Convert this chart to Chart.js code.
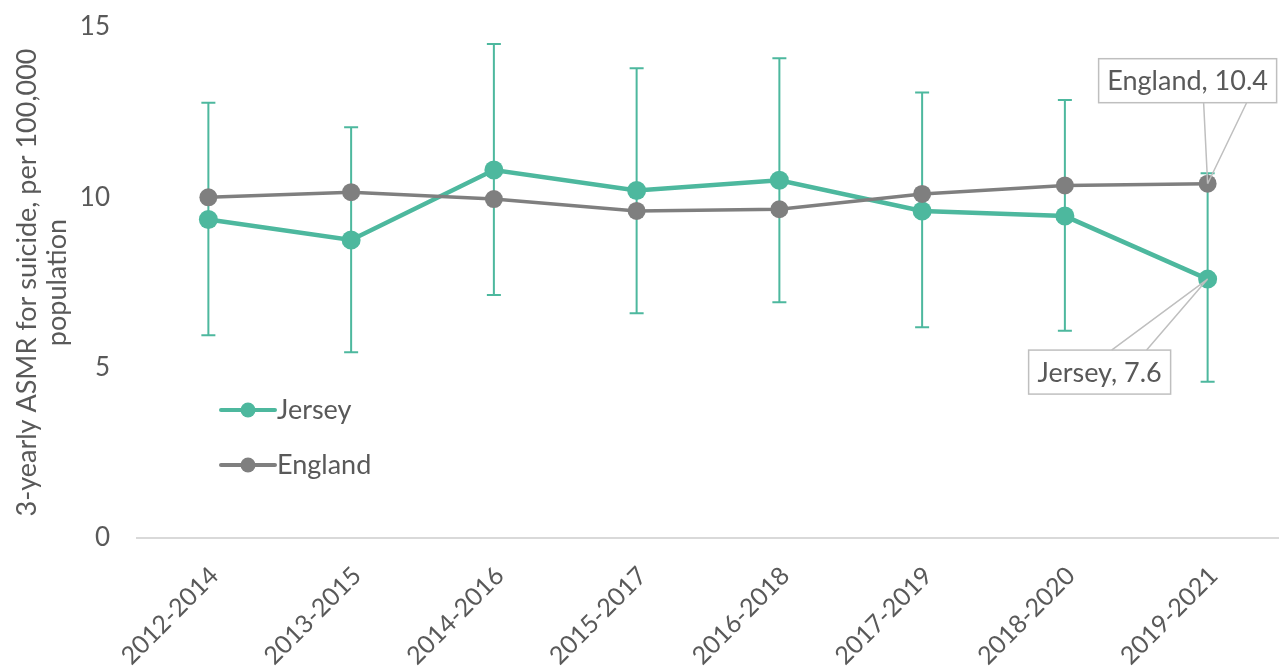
<!DOCTYPE html>
<html>
<head>
<meta charset="utf-8">
<title>Suicide rates, Jersey and England</title>
<script src="https://cdn.jsdelivr.net/npm/chart.js@4.4.1/dist/chart.umd.min.js"></script>
<style>
  html, body { margin: 0; padding: 0; background: #ffffff; }
  #wrap { width: 1279px; height: 666px; overflow: hidden; }
</style>
</head>
<body>
<div id="wrap"><canvas id="chart" width="1279" height="666"></canvas></div>
<script>
// Three-year rolling periods
const periods = ['2012-2014', '2013-2015', '2014-2016', '2015-2017', '2016-2018', '2017-2019', '2018-2020', '2019-2021'];

// Age-standardised mortality rate for suicide, per 100,000 population
const jerseyRate  = [9.35, 8.75, 10.8, 10.2, 10.5, 9.6, 9.45, 7.6];
const jerseyLower = [5.95, 5.45, 7.13, 6.6, 6.92, 6.19, 6.08, 4.59];
const jerseyUpper = [12.78, 12.06, 14.5, 13.79, 14.08, 13.08, 12.86, 10.71];
const englandRate = [10.0, 10.15, 9.95, 9.6, 9.65, 10.1, 10.35, 10.4];

const yTicks = [0, 5, 10, 15];

const TEAL = '#4db89e';
const GREY = '#7f7f7f';
const TEXT = '#595959';
const FONT = 'Lato, "Open Sans", sans-serif';

// Confidence interval whiskers for Jersey, drawn beneath the lines
const errorBars = {
  id: 'errorBars',
  beforeDatasetsDraw(chart) {
    const ctx = chart.ctx;
    const y = chart.scales.y;
    const meta = chart.getDatasetMeta(0);
    ctx.save();
    ctx.strokeStyle = TEAL;
    ctx.lineWidth = 2;
    meta.data.forEach((pt, i) => {
      const x = pt.x;
      const yLo = y.getPixelForValue(jerseyLower[i]);
      const yHi = y.getPixelForValue(jerseyUpper[i]);
      ctx.beginPath();
      ctx.moveTo(x, yHi); ctx.lineTo(x, yLo);
      ctx.moveTo(x - 7, yHi); ctx.lineTo(x + 7, yHi);
      ctx.moveTo(x - 7, yLo); ctx.lineTo(x + 7, yLo);
      ctx.stroke();
    });
    ctx.restore();
  }
};

// Legend placed inside the plot area
const innerLegend = {
  id: 'innerLegend',
  afterDraw(chart) {
    const ctx = chart.ctx;
    const a = chart.chartArea;
    const items = [
      { label: 'Jersey', color: TEAL, dy: 0.7495 },
      { label: 'England', color: GREY, dy: 0.8571 }
    ];
    ctx.save();
    items.forEach(it => {
      const yy = a.top + (a.bottom - a.top) * it.dy;
      const x0 = a.left + 84;
      ctx.strokeStyle = it.color;
      ctx.lineWidth = 4;
      ctx.lineCap = 'round';
      ctx.beginPath();
      ctx.moveTo(x0, yy); ctx.lineTo(x0 + 54, yy);
      ctx.stroke();
      ctx.fillStyle = it.color;
      ctx.beginPath();
      ctx.arc(x0 + 27, yy, 7.5, 0, Math.PI * 2);
      ctx.fill();
      ctx.fillStyle = TEXT;
      ctx.font = '27px ' + FONT;
      ctx.textAlign = 'left';
      ctx.textBaseline = 'middle';
      ctx.fillText(it.label, x0 + 56, yy);
    });
    ctx.restore();
  }
};

// Callout labels on the final period
function drawCallout(ctx, text, px, py, box, attach) {
  ctx.save();
  ctx.strokeStyle = '#bfbfbf';
  ctx.lineWidth = 1.5;
  const L = px + box[0], R = px + box[1], T = py + box[2], B = py + box[3];
  ctx.fillStyle = '#ffffff';
  ctx.fillRect(L, T, R - L, B - T);
  ctx.strokeRect(L, T, R - L, B - T);
  const ay = attach.edge === 'bottom' ? B : T;
  ctx.beginPath();
  ctx.moveTo(px + attach.x1, ay); ctx.lineTo(px, py);
  ctx.moveTo(px + attach.x2, ay); ctx.lineTo(px, py);
  ctx.stroke();
  ctx.fillStyle = TEXT;
  ctx.font = '27px ' + FONT;
  ctx.textAlign = 'center';
  ctx.textBaseline = 'middle';
  ctx.fillText(text, (L + R) / 2, (T + B) / 2 + 1);
  ctx.restore();
}

const callouts = {
  id: 'callouts',
  afterDatasetsDraw(chart) {
    const ctx = chart.ctx;
    const last = periods.length - 1;
    const e = chart.getDatasetMeta(1).data[last];
    const j = chart.getDatasetMeta(0).data[last];
    drawCallout(ctx, 'England, ' + englandRate[last].toFixed(1), e.x, e.y,
      [-109, 69, -125, -81], { edge: 'bottom', x1: -4, x2: 39 });
    drawCallout(ctx, 'Jersey, ' + jerseyRate[last].toFixed(1), j.x, j.y,
      [-179, -37, 71, 115], { edge: 'top', x1: -96, x2: -61 });
  }
};

new Chart(document.getElementById('chart'), {
  type: 'line',
  data: {
    labels: periods,
    datasets: [
      {
        label: 'Jersey',
        data: jerseyRate,
        borderColor: TEAL,
        backgroundColor: TEAL,
        borderWidth: 4.5,
        pointRadius: 9.5,
        pointBorderWidth: 0,
        pointBackgroundColor: TEAL,
        tension: 0,
        order: 2
      },
      {
        label: 'England',
        data: englandRate,
        borderColor: GREY,
        backgroundColor: GREY,
        borderWidth: 3.5,
        pointRadius: 9,
        pointBorderWidth: 0,
        pointBackgroundColor: GREY,
        tension: 0,
        order: 1
      }
    ]
  },
  options: {
    responsive: false,
    animation: false,
    devicePixelRatio: 1,
    layout: { autoPadding: false, padding: { top: 27, right: -2, left: 0, bottom: 0 } },
    plugins: {
      legend: { display: false },
      tooltip: { enabled: false },
      title: { display: false }
    },
    scales: {
      x: {
        offset: true,
        grid: { display: false, drawTicks: false },
        border: { display: true, color: '#d9d9d9', width: 2 },
        ticks: {
          color: TEXT,
          font: { family: FONT, size: 25 },
          minRotation: 45,
          maxRotation: 45,
          padding: 23,
          labelOffset: 6,
          autoSkip: false
        },
        afterFit(scale) {
          scale.height = 128;
          scale.paddingLeft = 0;
          scale.paddingRight = 0;
        }
      },
      y: {
        min: 0,
        max: 15,
        grid: { display: false, drawTicks: false },
        border: { display: false },
        afterBuildTicks(scale) { scale.ticks = yTicks.map(v => ({ value: v })); },
        ticks: {
          color: TEXT,
          font: { family: FONT, size: 26 },
          padding: 27
        },
        title: {
          display: true,
          text: ['3-yearly ASMR for suicide, per 100,000', 'population'],
          color: TEXT,
          font: { family: FONT, size: 27, lineHeight: 1.11 },
          padding: { top: 12, bottom: 0 }
        },
        afterFit(scale) {
          scale.width = 137;
          scale.paddingTop = 0;
          scale.paddingBottom = 0;
        }
      }
    }
  },
  plugins: [errorBars, callouts, innerLegend]
});
</script>
</body>
</html>
